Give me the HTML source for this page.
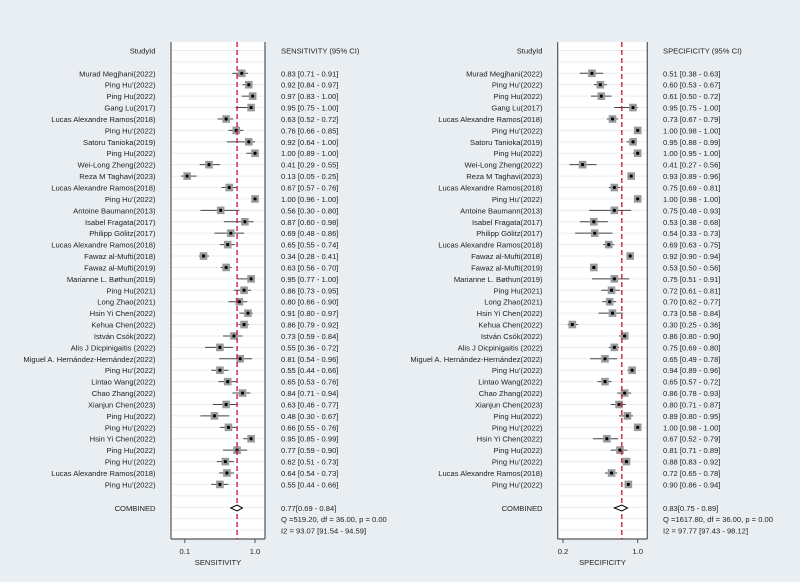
<!DOCTYPE html>
<html><head><meta charset="utf-8"><style>
html,body{margin:0;padding:0;background:#e9eef2;}
svg{display:block;font-family:"Liberation Sans",sans-serif;}
</style></head><body>
<svg id="chart" width="800" height="582" viewBox="0 0 800 582"></svg>
<script>
const studies=["Murad Megjhani(2022)","Ping Hu’(2022)","Ping Hu(2022)","Gang Lu(2017)","Lucas Alexandre Ramos(2018)","Ping Hu’(2022)","Satoru Tanioka(2019)","Ping Hu(2022)","Wei-Long Zheng(2022)","Reza M Taghavi(2023)","Lucas Alexandre Ramos(2018)","Ping Hu’(2022)","Antoine Baumann(2013)","Isabel Fragata(2017)","Philipp Gölitz(2017)","Lucas Alexandre Ramos(2018)","Fawaz al-Mufti(2018)","Fawaz al-Mufti(2019)","Marianne L. Bøthun(2019)","Ping Hu(2021)","Long Zhao(2021)","Hsin Yi Chen(2022)","Kehua Chen(2022)","István Csók(2022)","Alis J Dicpinigaitis (2022)","Miguel A. Hernández-Hernández(2022)","Ping Hu’(2022)","Lintao Wang(2022)","Chao Zhang(2022)","Xianjun Chen(2023)","Ping Hu(2022)","Ping Hu’(2022)","Hsin Yi Chen(2022)","Ping Hu(2022)","Ping Hu’(2022)","Lucas Alexandre Ramos(2018)","Ping Hu’(2022)"];
const sens=[0.83,0.92,0.97,0.95,0.63,0.76,0.92,1.00,0.41,0.13,0.67,1.00,0.56,0.87,0.69,0.65,0.34,0.63,0.95,0.86,0.80,0.91,0.86,0.73,0.55,0.81,0.55,0.65,0.84,0.63,0.48,0.66,0.95,0.77,0.62,0.64,0.55];
const sensLo=[0.71,0.84,0.83,0.75,0.52,0.66,0.64,0.89,0.29,0.05,0.57,0.96,0.30,0.60,0.48,0.55,0.28,0.56,0.77,0.73,0.66,0.80,0.79,0.59,0.36,0.54,0.44,0.53,0.71,0.46,0.30,0.55,0.85,0.59,0.51,0.54,0.44];
const sensHi=[0.91,0.97,1.00,1.00,0.72,0.85,1.00,1.00,0.55,0.25,0.76,1.00,0.80,0.98,0.86,0.74,0.41,0.70,1.00,0.95,0.90,0.97,0.92,0.84,0.72,0.96,0.66,0.76,0.94,0.77,0.67,0.76,0.99,0.90,0.73,0.73,0.66];
const spec=[0.51,0.60,0.61,0.95,0.73,1.00,0.95,1.00,0.41,0.93,0.75,1.00,0.75,0.53,0.54,0.69,0.92,0.53,0.75,0.72,0.70,0.73,0.30,0.86,0.75,0.65,0.94,0.65,0.86,0.80,0.89,1.00,0.67,0.81,0.88,0.72,0.90];
const specLo=[0.38,0.53,0.50,0.75,0.67,0.98,0.88,0.95,0.27,0.89,0.69,0.98,0.48,0.38,0.33,0.63,0.90,0.50,0.51,0.61,0.62,0.58,0.25,0.80,0.69,0.49,0.89,0.57,0.78,0.71,0.80,0.98,0.52,0.71,0.83,0.65,0.86];
const specHi=[0.63,0.67,0.72,1.00,0.79,1.00,0.99,1.00,0.56,0.96,0.81,1.00,0.93,0.68,0.73,0.75,0.94,0.56,0.91,0.81,0.77,0.84,0.36,0.90,0.80,0.78,0.96,0.72,0.93,0.87,0.95,1.00,0.79,0.89,0.92,0.78,0.94];
const sensPooled=[0.77,0.69,0.84];
const specPooled=[0.83,0.75,0.89];
const sensStats=["Q =519.20, df = 36.00, p =  0.00","I2 = 93.07 [91.54 - 94.59]"];
const specStats=["Q =1617.80, df = 36.00, p =  0.00","I2 = 97.77 [97.43 - 98.12]"];
const sensTicks=[0.1,1.0];
const specTicks=[0.2,1.0];

const NS="http://www.w3.org/2000/svg";
const svg=document.getElementById('chart');
function mk(tag,attrs,parent){const e=document.createElementNS(NS,tag);for(const k in attrs)e.setAttribute(k,attrs[k]);(parent||svg).appendChild(e);return e;}
function txt(s,x,y,anchor,parent){const t=mk('text',{x:x,y:y,'font-size':7.6,fill:'#222','text-anchor':anchor||'start'},parent);t.textContent=s;return t;}
const rowY=i=>73.3+i*11.42;
const f2=v=>v.toFixed(2);

function panel(cfg){
  const g=mk('g',{});
  
  
  const xs=v=>cfg.x0+cfg.k*v;
  const top=42,bot=539;
  const box=mk('rect',{x:cfg.l,y:top,width:cfg.r-cfg.l,height:bot-top,fill:'#fff',stroke:'none'},g);
  
  
  for(let i=-2;i<=41;i++){const y=rowY(i);if(y<top+3||y>bot-3)continue;
    mk('line',{x1:cfg.l,x2:cfg.r,y1:y,y2:y,stroke:'#ececec','stroke-width':1},g);}
  mk('line',{x1:cfg.l,x2:cfg.l,y1:top,y2:bot,stroke:'#555','stroke-width':1.2},g);
  mk('line',{x1:cfg.r,x2:cfg.r,y1:top,y2:bot,stroke:'#555','stroke-width':1.2},g);
  mk('line',{x1:cfg.l,x2:cfg.r,y1:bot,y2:bot,stroke:'#555','stroke-width':1.2},g);
  const h1=txt('StudyId',cfg.labX,rowY(-2)+3,'end',g);
  
  
  const h2=txt(cfg.header,cfg.ciX,rowY(-2)+3,'start',g);
  
  
  studies.forEach((s,i)=>{
    const y=rowY(i);
    const lab=txt(s,cfg.labX,y+3,'end',g);
    
    
    const ln=mk('line',{x1:xs(cfg.lo[i]),x2:xs(cfg.hi[i]),y1:y,y2:y,stroke:'#444','stroke-width':1},g);
    
    
    const sq=mk('rect',{x:xs(cfg.est[i])-3.8,y:y-3.8,width:7.6,height:7.6,fill:'#9a9a9a'},g);
    
    
    const dot=mk('circle',{cx:xs(cfg.est[i]),cy:y,r:1.6,fill:'#000'},g);
    
    
    const ci=txt(f2(cfg.est[i])+' ['+f2(cfg.lo[i])+' - '+f2(cfg.hi[i])+']',cfg.ciX,y+3,'start',g);
    
    
  });
  const cy=508;
  const p=cfg.pooled;
  const ref=mk('line',{x1:xs(p[0]),x2:xs(p[0]),y1:top,y2:bot,stroke:'#c8102e','stroke-width':1.3,'stroke-dasharray':'5,3'},g);
  
  
  const cl=txt('COMBINED',cfg.labX,cy+3,'end',g);
  
  
  const dm=mk('polygon',{points:`${xs(p[1])},${cy} ${xs(p[0])},${cy-3} ${xs(p[2])},${cy} ${xs(p[0])},${cy+3}`,fill:'#fff',stroke:'#000','stroke-width':1},g);
  
  
  const pv=txt(' '+f2(p[0])+'['+f2(p[1])+' - '+f2(p[2])+']',cfg.ciX,cy+3,'start',g);
  
  
  cfg.stats.forEach((s,j)=>{const t=txt(s,cfg.ciX,cy+14+j*11.4,'start',g);
    
    });
  cfg.ticks.forEach(v=>{
    mk('line',{x1:xs(v),x2:xs(v),y1:bot,y2:bot+4,stroke:'#555'},g);
    const t=txt(v.toFixed(1),xs(v),bot+15,'middle',g);
    
    
  });
  const at=txt(cfg.title,(cfg.l+cfg.r)/2,bot+26,'middle',g);
  
  
}
panel({name:'sensitivity-panel',l:171,r:265,x0:177,k:78,labX:155.5,ciX:281,header:'SENSITIVITY (95% CI)',title:'SENSITIVITY',est:sens,lo:sensLo,hi:sensHi,pooled:sensPooled,stats:sensStats,ticks:sensTicks});
panel({name:'specificity-panel',l:557.7,r:647.3,x0:544.3,k:93.4,labX:542.5,ciX:663,header:'SPECIFICITY (95% CI)',title:'SPECIFICITY',est:spec,lo:specLo,hi:specHi,pooled:specPooled,stats:specStats,ticks:specTicks});
</script>
</body></html>
